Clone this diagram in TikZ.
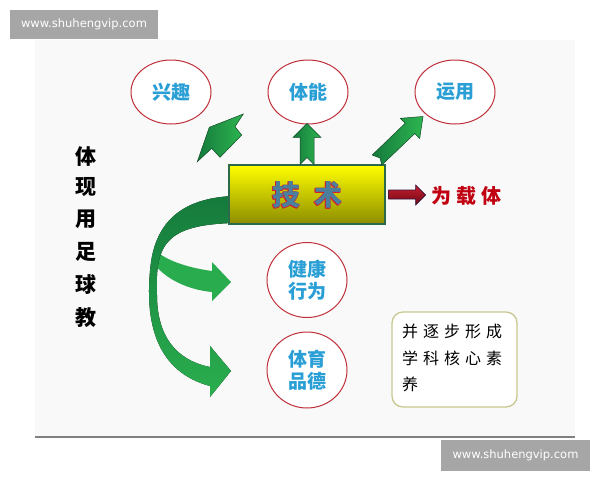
\documentclass[tikz,border=0pt]{standalone}
\usepackage{fontspec}
\newfontfamily\cjk{Noto Sans CJK SC}
\newfontfamily\wm{DejaVu Sans}
\usetikzlibrary{shapes.geometric,calc}
\definecolor{circred}{HTML}{C0303A}
\definecolor{txtblue}{HTML}{2A9FD6}
\definecolor{gdark}{HTML}{157A3C}
\definecolor{glight}{HTML}{2DB550}
\definecolor{wmgray}{HTML}{A6A6A6}
\definecolor{slidebg}{HTML}{F9F9F9}
\definecolor{boxborder}{HTML}{2C6A4C}
\definecolor{jsblue}{HTML}{4A7F9E}
\definecolor{jsred}{HTML}{D02030}
\definecolor{callired}{HTML}{C00010}
\definecolor{olivebd}{HTML}{C8C890}
\tikzset{
  circ/.style={ellipse, draw=circred, line width=1pt, fill=white,
    minimum width=80pt, minimum height=64pt, inner sep=0pt,
    font=\cjk\bfseries\fontsize{19}{22}\selectfont, text=txtblue, align=center},
  garrow/.style={draw=gdark!60!black, line width=0.5pt, left color=gdark, right color=glight},
  wmark/.style={fill=wmgray, text=white, inner sep=0pt, font=\wm\fontsize{11.5}{12}\selectfont},
  calli/.style={font=\cjk\bfseries\fontsize{21}{22}\selectfont, inner sep=0pt},
  notetext/.style={font=\cjk\fontsize{16}{18}\selectfont\addfontfeature{LetterSpace=31}, inner sep=0pt, anchor=west},
}
\begin{document}
\begin{tikzpicture}[x=1pt,y=-1pt]
\useasboundingbox (0,0) rectangle (600,480);
\fill[white] (0,0) rectangle (600,480);
\fill[slidebg] (35,40) rectangle (575,437);
\draw[gray, line width=2.5pt] (35,437) -- (575,437);

% watermarks
\node[wmark, minimum width=148pt, minimum height=29pt] (wm1) at (84,24.5) {www.shuhengvip.com};
\node[wmark, minimum width=149pt, minimum height=31pt] (wm2) at (515.5,455.5) {www.shuhengvip.com};

% circles
\node[circ] (xq) at (171,92) {兴趣};
\node[circ] (tn) at (308,92) {体能};
\node[circ] (yy) at (455,92) {运用};
\node[circ, minimum height=75pt] (jk) at (307,280) {健康\\行为};
\node[circ, minimum height=76pt] (ty) at (307,370) {体育\\品德};

% curved green ribbon: upper branch
\fill[glight!85!gdark] (157,252) .. controls (170,262) and (190,268) .. (212,271)
  -- (212,262) -- (231,282) -- (212,301) -- (212,292)
  .. controls (190,290) and (165,280) .. (153,262) -- cycle;
% main ribbon
\fill[top color=gdark, bottom color=glight!90!gdark]
  (233,196) .. controls (190,198) and (158,215) .. (151,262)
  .. controls (143,325) and (158,372) .. (210,386)
  -- (210,397) -- (231,371) -- (210,346) -- (210,367)
  .. controls (175,360) and (157,335) .. (157,295)
  .. controls (155,245) and (165,225) .. (233,223) -- cycle;

% central box
\node[draw=boxborder, line width=1.2pt, top color=yellow, middle color={rgb,255:red,240;green,240;blue,0}, bottom color={rgb,255:red,140;green,140;blue,0},
  minimum width=156pt, minimum height=59pt, inner sep=0pt] (js) at (307,194.5) {};
\foreach \dx/\dy in {0.9/0.9,-0.6/-0.6,0.8/-0.5,-0.5/0.8}{
  \node[font=\cjk\bfseries\fontsize{28}{30}\selectfont, text=jsred, inner sep=0pt] at ($(286,195)+(\dx,\dy)$) {技};
  \node[font=\cjk\bfseries\fontsize{28}{30}\selectfont, text=jsred, inner sep=0pt] at ($(328,195)+(\dx,\dy)$) {术};
}
\node[font=\cjk\bfseries\fontsize{28}{30}\selectfont, text=jsblue, inner sep=0pt] (ji) at (286,195) {技};
\node[font=\cjk\bfseries\fontsize{28}{30}\selectfont, text=jsblue, inner sep=0pt] (shu) at (328,195) {术};

% arrow to 体能
\begin{scope}[shift={(js.north)}]
\draw[garrow] (-7,0) -- (-7,-27) -- (-14,-27) -- (0,-41) -- (14,-27) -- (7,-27) -- (7,0) -- (0,-7) -- cycle;
\end{scope}
% arrow to 运用
\draw[garrow] (381.8,165) -- (414.8,133.5) -- (419.7,138.5) -- (423,116.5) -- (400.3,118.3) -- (405.2,123.3) -- (372.2,155) -- (380,158) -- cycle;
% arrow to 兴趣
\draw[garrow] (197.3,161.7) -- (209.3,127.3) -- (243.3,114) -- (235,126.7) -- (241.7,135) -- (220,157.3) -- (211.7,148.3) -- cycle;

% red arrow
\begin{scope}[shift={(js.east)}]
\draw[draw={rgb,255:red,50;green,20;blue,60}, line width=0.6pt, top color={rgb,255:red,200;green,30;blue,45}, bottom color={rgb,255:red,110;green,8;blue,24}]
  (3,-4.5) -- (30,-4.5) -- (30,-9.5) -- (40,0.5) -- (30,10.5) -- (30,4.5) -- (3,4.5) -- cycle;
\end{scope}
\node[calli, text=callired, anchor=west, font=\cjk\bfseries\fontsize{20}{22}\selectfont\addfontfeature{LetterSpace=25}] (wzt) at (431,196) {为载体};

% vertical calligraphy text
\node[calli] (c1) at (86,157) {体};
\node[calli] (c2) at (86,187) {现};
\node[calli] (c3) at (86,219) {用};
\node[calli] (c4) at (86,252) {足};
\node[calli] (c5) at (86,285) {球};
\node[calli] (c6) at (86,318) {教};

% note box
\draw[olivebd, line width=1.3pt, fill=white, rounded corners=11pt] (392,312) rectangle (517,407);
\node[notetext] (n1) at (402,331) {并逐步形成};
\node[notetext] (n2) at (402,358) {学科核心素};
\node[notetext] (n3) at (402,384) {养};
\end{tikzpicture}
\end{document}
